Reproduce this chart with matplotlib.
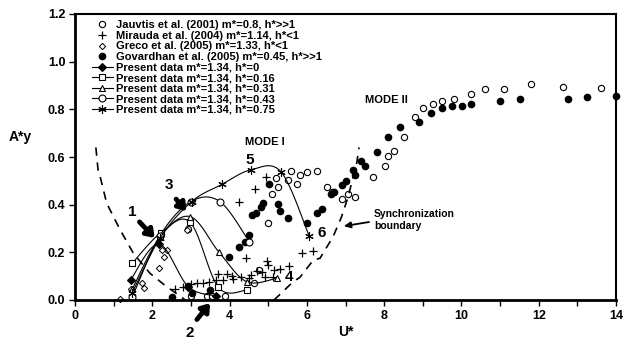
import numpy as np
import matplotlib.pyplot as plt
from matplotlib.lines import Line2D

plt.rcParams['font.family'] = ['Liberation Sans', 'DejaVu Sans']
plt.rcParams['font.weight'] = 'bold'

# Jauvtis et al. (2001) open circles
jau_u = [2.99, 3.41, 3.55, 3.89, 4.62, 4.77, 5.00, 5.11, 5.25, 5.20, 5.50, 5.59, 5.75, 5.81,
         6.01, 6.25, 6.51, 6.64, 6.90, 7.07, 7.25, 7.70, 8.01, 8.11, 8.26, 8.51, 8.81, 9.01,
         9.26, 9.51, 9.82, 10.26, 10.61, 11.11, 11.80, 12.62, 13.61, 2.93]
jau_a = [0.018, 0.017, 0.017, 0.017, 0.073, 0.126, 0.322, 0.445, 0.473, 0.513, 0.504, 0.542,
         0.485, 0.525, 0.535, 0.542, 0.473, 0.452, 0.423, 0.444, 0.434, 0.514, 0.564, 0.605,
         0.626, 0.685, 0.766, 0.805, 0.824, 0.837, 0.845, 0.866, 0.885, 0.885, 0.905, 0.894,
         0.889, 0.300]

# Mirauda et al. (2004) crosses
mir_u = [2.59, 2.79, 2.99, 3.15, 3.32, 3.48, 3.65, 3.71, 3.84, 3.93, 4.07, 4.10, 4.29, 4.49,
         4.55, 4.70, 4.83, 4.92, 4.99, 4.96, 5.13, 5.15, 5.31, 5.55, 4.43, 5.87, 6.15, 4.24,
         4.66, 4.93]
mir_a = [0.045, 0.053, 0.066, 0.073, 0.073, 0.077, 0.084, 0.109, 0.084, 0.108, 0.101, 0.087,
         0.095, 0.091, 0.104, 0.122, 0.119, 0.098, 0.147, 0.165, 0.095, 0.126, 0.132, 0.143,
         0.178, 0.199, 0.207, 0.413, 0.465, 0.518]

# Greco et al. (2005) diamonds
gre_u = [1.16, 1.48, 1.44, 1.74, 1.79, 2.18, 2.31, 2.37, 2.24, 2.91]
gre_a = [0.003, 0.011, 0.046, 0.072, 0.049, 0.135, 0.179, 0.208, 0.210, 0.294]

# Govardhan et al. (2005) filled circles
gov_u = [2.50, 2.93, 3.02, 3.49, 3.99, 4.25, 4.40, 4.51, 4.59, 4.68, 4.81, 4.87, 5.03, 5.26,
         5.31, 5.50, 6.00, 6.25, 6.38, 6.62, 6.70, 6.90, 7.01, 7.20, 7.25, 7.40, 7.50, 7.82,
         8.11, 8.40, 8.91, 9.20, 9.51, 9.76, 10.01, 10.26, 11.01, 11.51, 12.77, 13.26, 14.0]
gov_a = [0.011, 0.059, 0.031, 0.042, 0.179, 0.221, 0.244, 0.272, 0.356, 0.367, 0.392, 0.406,
         0.485, 0.402, 0.374, 0.343, 0.322, 0.364, 0.381, 0.444, 0.452, 0.483, 0.501, 0.546,
         0.525, 0.584, 0.564, 0.623, 0.685, 0.726, 0.745, 0.786, 0.805, 0.815, 0.815, 0.824,
         0.836, 0.845, 0.845, 0.850, 0.856]

# Present data
h00_u = [1.44, 2.17, 2.93, 3.65]
h00_a = [0.084, 0.235, 0.056, 0.017]
h16_u = [1.48, 2.23, 2.98, 3.71, 4.44]
h16_a = [0.154, 0.283, 0.326, 0.053, 0.041]
h31_u = [1.48, 2.20, 2.98, 3.73, 4.44, 5.22]
h31_a = [0.045, 0.265, 0.350, 0.200, 0.077, 0.091]
h43_u = [1.48, 2.20, 3.00, 3.75, 4.51]
h43_a = [0.011, 0.270, 0.413, 0.413, 0.245]
h75_u = [1.48, 2.20, 3.02, 3.80, 4.55, 5.33, 6.06]
h75_a = [0.030, 0.260, 0.413, 0.485, 0.546, 0.538, 0.269]

# synchronization boundary (two branches)
sb1_u = [0.54, 0.60, 0.65, 0.82, 1.16, 1.51, 1.94, 2.37, 2.72, 2.85]
sb1_a = [0.640, 0.540, 0.518, 0.406, 0.297, 0.196, 0.112, 0.056, 0.017, 0.0]
sb2_u = [5.15, 5.65, 5.82, 6.17, 6.34, 6.68, 6.90, 7.07, 7.20, 7.29, 7.35]
sb2_a = [0.0, 0.077, 0.095, 0.168, 0.175, 0.266, 0.350, 0.434, 0.518, 0.574, 0.640]


def smooth(u, a, n=20):
    # Catmull-Rom curve through the points (like Excel smoothed line)
    p = np.column_stack([u, a])
    p = np.vstack([p[0], p, p[-1]])
    out = []
    for i in range(1, len(p) - 2):
        p0, p1, p2, p3 = p[i - 1], p[i], p[i + 1], p[i + 2]
        t = np.linspace(0, 1, n)[:, None]
        c = 0.5 * ((2 * p1) + (-p0 + p2) * t + (2 * p0 - 5 * p1 + 4 * p2 - p3) * t ** 2
                   + (-p0 + 3 * p1 - 3 * p2 + p3) * t ** 3)
        out.append(c)
    c = np.vstack(out)
    return c[:, 0], c[:, 1]


fig = plt.figure(figsize=(6.24, 3.49), dpi=100)
ax = fig.add_axes([75 / 624, 49 / 349, 541 / 624, 286 / 349])

ms = 4.5
ax.plot(jau_u, jau_a, 'o', mfc='white', mec='black', mew=0.8, ms=ms, ls='none', clip_on=False)
ax.plot(mir_u, mir_a, '+', color='black', mew=0.9, ms=5.5, ls='none', clip_on=False)
ax.plot(gre_u, gre_a, 'D', mfc='white', mec='black', mew=0.7, ms=3.2, ls='none', clip_on=False)
ax.plot(gov_u, gov_a, 'o', color='black', ms=ms, ls='none', clip_on=False)

present = [
    (h00_u, h00_a, dict(marker='D', mfc='black', mec='black', ms=4.5)),
    (h16_u, h16_a, dict(marker='s', mfc='white', mec='black', ms=4.5)),
    (h31_u, h31_a, dict(marker='^', mfc='white', mec='black', ms=5)),
    (h43_u, h43_a, dict(marker='o', mfc='white', mec='black', ms=5)),
    (h75_u, h75_a, dict(marker=(6, 2, 0), mfc='black', mec='black', ms=6)),
]
for u, a, st in present:
    su, sa = smooth(u, a)
    ax.plot(su, sa, '-', color='black', lw=0.8)
    ax.plot(u, a, ls='none', mew=0.8, clip_on=False, **st)

ax.plot(sb1_u, sb1_a, '--', color='black', lw=1.2, dashes=(5, 4))
ax.plot(sb2_u, sb2_a, '--', color='black', lw=1.2, dashes=(5, 4))

ax.set_xlim(0, 14)
ax.set_ylim(0, 1.2)
ax.set_xticks(np.arange(0, 15, 2))
ax.set_xticks(np.arange(0, 15, 1), minor=True)
ax.set_yticks(np.arange(0, 1.21, 0.2))
ax.set_yticklabels(['%.1f' % v for v in np.arange(0, 1.21, 0.2)])
ax.tick_params(axis='both', which='both', direction='out', length=4, width=1, labelsize=9, pad=3)
for s in ['left', 'bottom']:
    ax.spines[s].set_linewidth(2)
for s in ['top', 'right']:
    ax.spines[s].set_linewidth(1.5)
ax.set_xlabel('U*', fontsize=10, fontweight='bold', labelpad=2)
fig.text(20 / 624, 1 - 137 / 349, 'A*y', fontsize=10, fontweight='bold', ha='center', va='center')

# labels
big = dict(fontsize=11, fontweight='bold', ha='center', va='center')
ax.text(1.47, 0.371, '1', **big)
ax.text(2.43, 0.483, '3', **big)
ax.text(4.53, 0.588, '5', **big)
ax.text(5.55, 0.095, '4', **big)
ax.text(6.38, 0.28, '6', **big)
ax.text(2.98, -0.137, '2', clip_on=False, **big)
ax.text(4.92, 0.665, 'MODE I', fontsize=8, fontweight='bold', ha='center', va='center')
ax.text(8.07, 0.84, 'MODE II', fontsize=8, fontweight='bold', ha='center', va='center')
ax.text(7.74, 0.335, 'Synchronization\nboundary', fontsize=7.5, fontweight='bold',
        ha='left', va='center', linespacing=1.2)

arr = dict(arrowstyle='-|>,head_length=0.45,head_width=0.32', color='black', lw=3.5)
ax.annotate('', xy=(2.11, 0.252), xytext=(1.62, 0.336), arrowprops=arr)
ax.annotate('', xy=(2.93, 0.364), xytext=(2.57, 0.432), arrowprops=arr)
ax.annotate('', xy=(3.54, -0.004), xytext=(3.11, -0.091), arrowprops=arr, annotation_clip=False)
ax.annotate('', xy=(6.88, 0.308), xytext=(7.68, 0.329),
            arrowprops=dict(arrowstyle='-|>,head_length=0.4,head_width=0.18', color='black', lw=1.3))

handles = [
    Line2D([], [], ls='none', marker='o', mfc='white', mec='black', ms=ms, mew=0.8),
    Line2D([], [], ls='none', marker='+', color='black', ms=5.5, mew=0.9),
    Line2D([], [], ls='none', marker='D', mfc='white', mec='black', ms=3.2, mew=0.7),
    Line2D([], [], ls='none', marker='o', color='black', ms=ms),
]
for u, a, st in present:
    handles.append(Line2D([], [], color='black', lw=0.8, mew=0.8, **st))
labels = ['Jauvtis et al. (2001) m*=0.8, h*>>1',
          'Mirauda et al. (2004) m*=1.14, h*<1',
          'Greco et al. (2005) m*=1.33, h*<1',
          'Govardhan et al. (2005) m*=0.45, h*>>1',
          'Present data m*=1.34, h*=0',
          'Present data m*=1.34, h*=0.16',
          'Present data m*=1.34, h*=0.31',
          'Present data m*=1.34, h*=0.43',
          'Present data m*=1.34, h*=0.75']
ax.legend(handles, labels, loc='upper left', bbox_to_anchor=(0.031, 0.978), frameon=False,
          prop={'weight': 'bold', 'size': 8}, borderpad=0, borderaxespad=0,
          labelspacing=0.05, handlelength=1.9, handletextpad=0.3)

fig.savefig('out.png', dpi=100)
